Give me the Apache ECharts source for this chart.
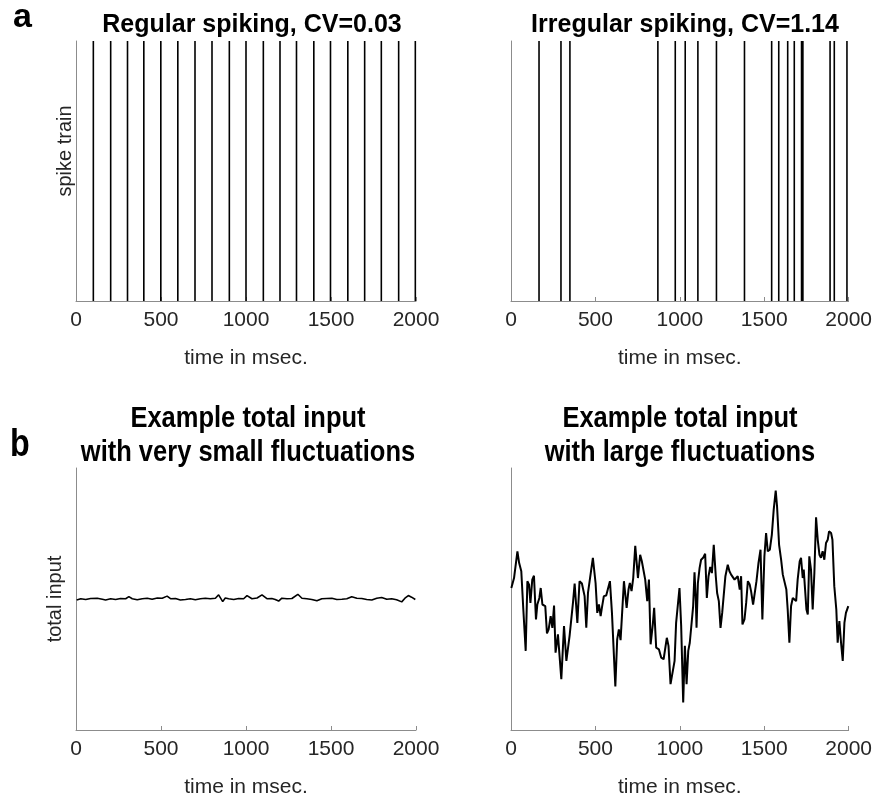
<!DOCTYPE html>
<html>
	<head>
		<meta charset="UTF-8">
		<title>spike trains and total input</title>
	</head>
	<style type="text/css">
		body {
			margin: 0;
			padding: 0;
			background: #fff;
		}

		#chart {
			width: 875px;
			height: 801px;
		}
	</style>
	<body>
		<div id="chart"></div>
		<script src="https://cdn.jsdelivr.net/npm/echarts@6/dist/echarts.min.js" type="text/javascript" charset="utf-8"></script>
		<script>
			// spike times (ms)
			var regularSpikes = [102, 204, 303, 399, 499, 599, 700, 800, 902, 1000, 1102, 1200, 1297, 1399, 1497, 1599, 1698, 1796, 1898, 1996];
			var irregularSpikes = [166, 296, 349, 870, 973, 1032, 1107, 1217, 1383, 1544, 1586, 1639, 1678, 1721, 1729, 1890, 1915, 1990];

			// small fluctuations (time, value)
			var smallT = [4, 28, 57, 86, 125, 155, 174, 204, 233, 262, 292, 311, 331, 360, 390, 419, 448, 478, 507, 536,
				556, 585, 614, 644, 673, 702, 732, 761, 790, 820, 839, 863, 878, 898, 928, 957, 986, 1006, 1035, 1065,
				1094, 1123, 1152, 1172, 1192, 1211, 1241, 1270, 1305, 1329, 1358, 1387, 1417, 1446, 1475, 1505, 1534, 1564, 1593, 1622,
				1652, 1681, 1710, 1740, 1769, 1798, 1828, 1857, 1886, 1916, 1935, 1955, 1974, 1996];
			var smallV = [49.6, 50.1, 49.8, 50.2, 50.3, 49.9, 49.6, 50.1, 49.8, 50.2, 50.1, 50.9, 50.1, 49.7, 50.1, 50.3, 49.9, 50.4, 50.3, 51.1,
				50.1, 50.2, 49.6, 49.8, 50.1, 49.7, 50.1, 50.3, 50.1, 50.3, 51.6, 49.0, 50.4, 50.1, 49.8, 50.2, 50.1, 51.3, 50.1, 50.4,
				51.6, 50.1, 50.2, 49.8, 49.2, 50.3, 50.1, 50.2, 51.8, 50.3, 50.1, 49.8, 49.3, 50.1, 50.2, 50.3, 49.8, 49.9, 50.1, 50.9,
				50.3, 50.2, 49.8, 49.6, 50.3, 50.6, 49.9, 50.1, 49.7, 48.9, 50.3, 51.3, 50.7, 49.8];

			// large fluctuations (time, value)
			var largeT = [2, 18, 38, 48, 55, 61, 73, 87, 97, 107, 115, 126, 136, 148, 156, 168, 176, 186, 195, 203,
				213, 223, 235, 245, 255, 264, 278, 298, 314, 328, 337, 347, 357, 367, 377, 393, 406, 420, 436, 446,
				456, 466, 485, 501, 511, 521, 531, 540, 550, 564, 574, 586, 598, 618, 629, 639, 649, 669, 685, 696,
				704, 714, 724, 736, 752, 765, 775, 785, 795, 807, 817, 827, 840, 848, 860, 876, 890, 904, 923, 933,
				945, 969, 978, 988, 998, 1008, 1020, 1030, 1040, 1050, 1059, 1069, 1079, 1087, 1095, 1099, 1107, 1117, 1126, 1138,
				1150, 1160, 1170, 1180, 1190, 1201, 1213, 1221, 1231, 1241, 1251, 1261, 1270, 1284, 1294, 1304, 1314, 1324, 1335, 1343,
				1355, 1363, 1371, 1383, 1393, 1403, 1414, 1422, 1434, 1442, 1454, 1466, 1478, 1489, 1501, 1511, 1521, 1533, 1545, 1556,
				1568, 1576, 1588, 1600, 1610, 1620, 1631, 1639, 1649, 1659, 1669, 1679, 1689, 1698, 1710, 1718, 1728, 1734, 1742, 1750,
				1758, 1767, 1777, 1787, 1797, 1807, 1817, 1827, 1836, 1846, 1856, 1866, 1876, 1884, 1896, 1904, 1915, 1927, 1935, 1945,
				1955, 1965, 1975, 1984, 1998];
			var largeV = [54.2, 58.0, 68.2, 63.8, 64.4, 60.6, 46.0, 30.2, 56.8, 55.5, 48.5, 57.4, 58.9, 42.2, 47.9, 50.4, 54.2, 47.9, 47.3, 47.3,
				36.9, 38.4, 43.5, 39.0, 47.5, 29.5, 36.5, 19.4, 39.7, 26.4, 26.0, 35.9, 36.5, 48.5, 55.9, 40.9, 56.8, 55.9, 51.1, 39.0,
				52.3, 52.3, 65.7, 56.1, 44.7, 47.9, 43.5, 47.3, 51.1, 51.3, 50.8, 56.8, 44.7, 16.6, 34.6, 38.4, 34.3, 56.8, 46.6, 53.6,
				56.1, 53.0, 58.0, 70.3, 58.0, 66.9, 64.4, 65.0, 57.4, 49.2, 57.4, 32.7, 40.3, 46.6, 31.4, 30.8, 27.6, 27.0, 35.2, 32.1,
				17.5, 26.4, 40.9, 41.6, 54.2, 39.7, 10.5, 32.1, 17.5, 30.2, 33.3, 32.7, 47.3, 60.2, 49.2, 39.0, 56.1, 61.8, 65.0, 65.7,
				67.3, 50.4, 58.7, 62.2, 59.9, 70.7, 58.7, 52.3, 49.2, 39.0, 44.7, 45.4, 58.7, 63.1, 60.6, 59.3, 58.7, 57.4, 57.4, 58.7,
				53.6, 58.7, 40.3, 42.2, 48.5, 56.8, 55.5, 53.0, 47.9, 47.3, 56.8, 63.8, 68.8, 42.2, 66.3, 75.2, 68.2, 68.8, 74.5, 84.0,
				91.4, 85.3, 70.7, 65.0, 59.3, 59.9, 53.6, 46.0, 33.3, 47.3, 50.4, 49.8, 49.2, 57.4, 64.4, 65.7, 58.0, 61.2, 53.6, 46.0,
				44.1, 66.3, 61.2, 46.0, 59.9, 81.2, 72.6, 66.9, 65.7, 68.2, 65.0, 71.4, 72.6, 75.8, 75.2, 72.6, 54.9, 46.0, 33.3, 41.6,
				33.3, 26.4, 40.9, 44.7, 47.3];

			var xTicks = [0, 500, 1000, 1500, 2000];

			var txt = '#262626';
			var axisGray = '#8c8c8c';
			var font = "'Liberation Sans', Arial, sans-serif";

			function spikeData(times) {
				var d = [];
				for (var i = 0; i < times.length; i++) {
					d.push([times[i], 0], [times[i], 1], [times[i], '-']);
				}
				return d;
			}

			function pairs(t, v) {
				var d = [];
				for (var i = 0; i < t.length; i++) d.push([t[i], v[i]]);
				return d;
			}

			function xAxisFor(idx) {
				return {
					type: 'value', gridIndex: idx, min: xTicks[0], max: xTicks[xTicks.length - 1], interval: 500,
					name: 'time in msec.', nameLocation: 'middle', nameGap: 47,
					nameTextStyle: { color: txt, fontSize: 21, fontFamily: font },
					axisLine: { show: true, onZero: false, lineStyle: { color: axisGray, width: 1 } },
					axisTick: { show: true, inside: true, length: 4, lineStyle: { color: axisGray } },
					axisLabel: { color: txt, fontSize: 21, fontFamily: font, margin: 9, formatter: function(v) { return String(v); } },
					splitLine: { show: false }
				};
			}

			function yAxisFor(idx, min, max, name, gap, shift) {
				return {
					type: 'value', gridIndex: idx, min: min, max: max,
					name: name, nameLocation: 'middle', nameGap: gap, nameRotate: 90,
					nameTextStyle: { color: txt, fontSize: 20, fontFamily: font, padding: [0, 0, 0, shift] },
					axisLine: { show: true, lineStyle: { color: axisGray, width: 1 } },
					axisTick: { show: false },
					axisLabel: { show: false },
					splitLine: { show: false }
				};
			}

			// bottom titles are condensed in the original, so squeeze them horizontally
			function condensedTitle(x, lines) {
				return {
					type: 'text', x: x, y: 402, scaleX: 0.85, scaleY: 1,
					style: { text: lines, fill: '#000', font: 'bold 30px ' + font, textAlign: 'center', lineHeight: 34 }
				};
			}

			var chart = echarts.init(document.getElementById('chart'));
			chart.setOption({
				backgroundColor: '#fff',
				animation: false,
				title: [
					{ text: 'a', left: 8, top: -4, textStyle: { fontSize: 34, fontWeight: 'bold', color: '#000', fontFamily: font } },
					{ text: 'Regular spiking, CV=0.03', left: 247, top: 8, textAlign: 'center', textStyle: { fontSize: 25, fontWeight: 'bold', color: '#000', fontFamily: font } },
					{ text: 'Irregular spiking, CV=1.14', left: 680, top: 8, textAlign: 'center', textStyle: { fontSize: 25, fontWeight: 'bold', color: '#000', fontFamily: font } }
				],
				graphic: [
					{ type: 'text', x: 10, y: 427, scaleX: 0.85, style: { text: 'b', fill: '#000', font: 'bold 38px ' + font } },
					condensedTitle(248, 'Example total input\nwith very small fluctuations'),
					condensedTitle(680, 'Example total input\nwith large fluctuations')
				],
				grid: [
					{ left: 76, width: 340, top: 41, height: 260 },
					{ left: 511, width: 338, top: 41, height: 260 },
					{ left: 76, width: 340, top: 468, height: 262 },
					{ left: 511, width: 338, top: 468, height: 262 }
				],
				xAxis: [xAxisFor(0), xAxisFor(1), xAxisFor(2), xAxisFor(3)],
				yAxis: [
					yAxisFor(0, 0, 1, 'spike train', 1, 40),
					yAxisFor(1, 0, 1, '', 10, 0),
					yAxisFor(2, 0, 100, 'total input', 11, 0),
					yAxisFor(3, 0, 100, '', 10, 0)
				],
				series: [
					{ type: 'line', xAxisIndex: 0, yAxisIndex: 0, data: spikeData(regularSpikes), showSymbol: false, connectNulls: false, lineStyle: { color: '#000', width: 1.6 } },
					{ type: 'line', xAxisIndex: 1, yAxisIndex: 1, data: spikeData(irregularSpikes), showSymbol: false, connectNulls: false, lineStyle: { color: '#000', width: 1.6 } },
					{ type: 'line', xAxisIndex: 2, yAxisIndex: 2, data: pairs(smallT, smallV), showSymbol: false, lineStyle: { color: '#000', width: 1.6 } },
					{ type: 'line', xAxisIndex: 3, yAxisIndex: 3, data: pairs(largeT, largeV), showSymbol: false, lineStyle: { color: '#000', width: 2 } }
				]
			});
		</script>
	</body>
</html>
